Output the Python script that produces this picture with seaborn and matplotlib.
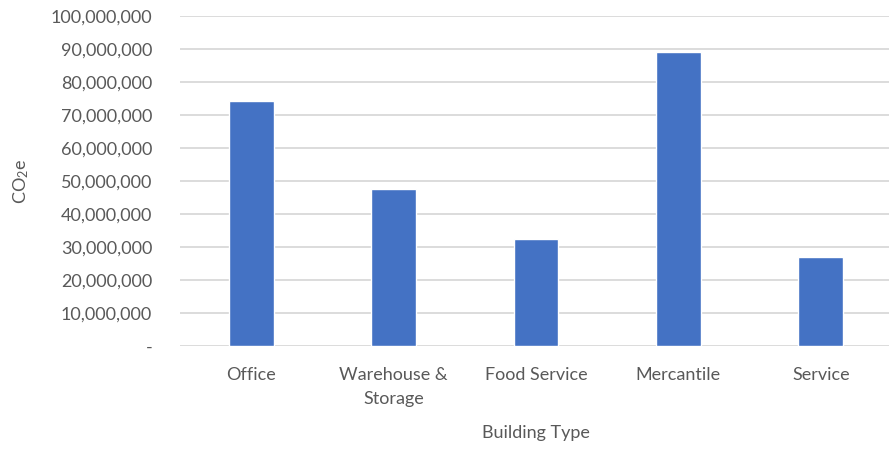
import matplotlib
matplotlib.use("Agg")
import matplotlib.pyplot as plt
import matplotlib.ticker as mticker
import seaborn as sns
import pandas as pd

building_types = ["Office", "Warehouse &\nStorage", "Food Service", "Mercantile", "Service"]
co2e_values = [74_200_000, 47_500_000, 32_500_000, 89_100_000, 27_100_000]
y_ticks = list(range(0, 100_000_001, 10_000_000))

df = pd.DataFrame({"Building Type": building_types, "CO2e": co2e_values})

sns.set_theme(style="white")
plt.rcParams["font.family"] = ["Lato", "DejaVu Sans"]
plt.rcParams["mathtext.fontset"] = "custom"
plt.rcParams["mathtext.rm"] = "Lato"
plt.rcParams["mathtext.it"] = "Lato:italic"

text_color = "#595959"
fig = plt.figure(figsize=(8.89, 4.49), dpi=100)
ax = fig.add_axes([180 / 889, 1 - 346 / 449, 712 / 889, 330 / 449])

sns.barplot(data=df, x="Building Type", y="CO2e", color="#4472C4",
            saturation=1, width=0.315, ax=ax)

ax.set_ylim(0, 100_000_000)
ax.set_yticks(y_ticks)
ax.yaxis.set_major_formatter(mticker.FuncFormatter(
    lambda v, _: "-" if v == 0 else f"{int(v):,}"))
ax.grid(axis="y", color="#d9d9d9", linewidth=1.3)
ax.set_axisbelow(True)
for s in ax.spines.values():
    s.set_visible(False)
ax.tick_params(axis="both", length=0, labelsize=13, labelcolor=text_color)
ax.tick_params(axis="y", pad=20)
ax.tick_params(axis="x", pad=15)
for lbl in ax.get_xticklabels():
    lbl.set_linespacing(1.6)

ax.set_xlabel("Building Type", fontsize=13, color=text_color, labelpad=13)
ax.set_ylabel("CO$_2$e", fontsize=13, color=text_color, labelpad=14)

fig.savefig("out.png", dpi=100)
